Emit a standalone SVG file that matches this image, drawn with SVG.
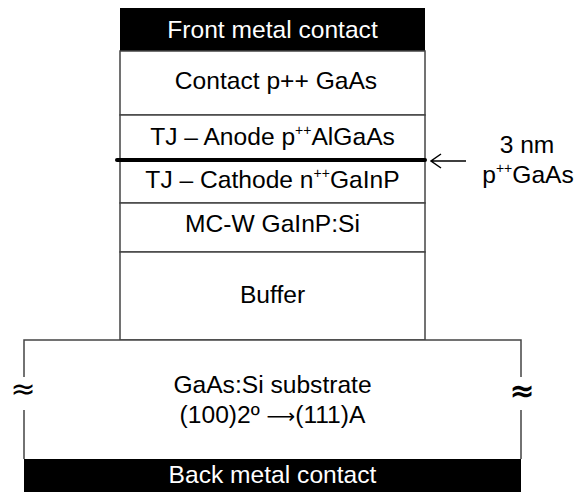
<svg xmlns="http://www.w3.org/2000/svg" width="587" height="492" viewBox="0 0 587 492">
<style>
text{font-family:"Liberation Sans",Arial,sans-serif;font-size:24.6px;text-anchor:middle;fill:#000}
.w{fill:#fff}
.box{fill:#fff;stroke:#444;stroke-width:1.5}
.sup{font-size:14px}
.ap{font-family:"DejaVu Sans",sans-serif;font-size:30px}
</style>
<rect x="0" y="0" width="587" height="492" fill="#fff"/>
<g id="front-contact">
<rect x="120" y="8" width="305" height="43" fill="#000"/>
<text class="w" x="272.5" y="38">Front metal contact</text>
</g>
<g id="contact-gaas">
<rect class="box" x="120" y="51" width="305" height="64"/>
<text x="276" y="89">Contact p++ GaAs</text>
</g>
<g id="tj-anode">
<rect class="box" x="120" y="115" width="305" height="45"/>
<text x="272.5" y="145">TJ – Anode p<tspan class="sup" dy="-10">++</tspan><tspan dy="10">AlGaAs</tspan></text>
</g>
<g id="tj-cathode">
<rect class="box" x="120" y="160" width="305" height="43"/>
<text x="272.5" y="188">TJ – Cathode n<tspan class="sup" dy="-10">++</tspan><tspan dy="10">GaInP</tspan></text>
</g>
<g id="mcw">
<rect class="box" x="120" y="203" width="305" height="49"/>
<text x="272.5" y="232">MC-W GaInP:Si</text>
</g>
<g id="buffer">
<rect class="box" x="120" y="252" width="305" height="88"/>
<text x="272.5" y="303">Buffer</text>
</g>
<g id="substrate">
<rect x="24" y="340" width="497" height="119" fill="#fff"/>
<path d="M24,377 V340 H521 V377 M24,410 V459 M521,410 V459" fill="none" stroke="#444" stroke-width="1.5"/>
<text x="272.5" y="393">GaAs:Si substrate</text>
<text x="272.5" y="423">(100)2º <tspan style="font-family:'DejaVu Sans',sans-serif;font-size:20px">⟶</tspan>(111)A</text>
<text class="ap" x="23" y="399">≈</text>
<text class="ap" x="522" y="401" style="font-weight:bold">≈</text>
</g>
<g id="back-contact">
<rect x="24" y="459" width="497" height="33" fill="#000"/>
<text class="w" x="272.5" y="483">Back metal contact</text>
</g>
<g id="gaas-3nm">
<text x="527" y="153">3 nm</text>
<text x="528" y="183">p<tspan class="sup" dy="-10">++</tspan><tspan dy="10">GaAs</tspan></text>
</g>
<g id="connectors">
<line x1="117" y1="160" x2="425" y2="160" stroke="#000" stroke-width="4" stroke-linecap="round"/>
<path d="M466,161 H431 M441,154 L431,161 L441,168" fill="none" stroke="#000" stroke-width="1.5"/>
</g>
</svg>
